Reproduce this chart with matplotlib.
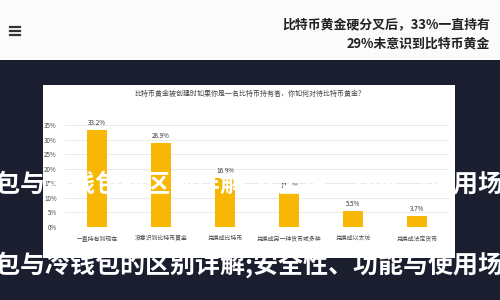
import matplotlib
matplotlib.use("Agg")
import matplotlib.pyplot as plt
from matplotlib.patches import Rectangle
from matplotlib.lines import Line2D

plt.rcParams['font.family'] = ['Noto Sans CJK SC', 'DejaVu Sans']

# data
categories = ['一直持有到现在', '没意识到比特币黄金', '兑换成比特币',
              '兑换成另一种货币或多种', '兑换成以太坊', '兑换成法定货币']
shares = [33.2, 28.9, 16.9, 11.6, 5.5, 3.7]
y_ticks = [0, 5, 10, 15, 20, 25, 30, 35]

header_lines = ['比特币黄金硬分叉后，33%一直持有', '29%未意识到比特币黄金']
chart_title = '比特币黄金被创建时如果你是一名比特币持有者，你如何对待比特币黄金？'
overlay_text = '钱包与冷钱包的区别详解;安全性、功能与使用场景'

W, H = 500, 300
dark = '#1b1e2f'
bar_color = '#f8b704'

fig = plt.figure(figsize=(W / 100, H / 100), dpi=100)
fig.patch.set_facecolor(dark)


def fx(px):
    return px / W


def fy(py):
    return 1 - py / H


# white header strip
fig.add_artist(Rectangle((0, fy(60)), 1, fy(0) - fy(60), transform=fig.transFigure,
                         facecolor='#fbfbfb', edgecolor='none', zorder=0))
# hamburger icon
for yy in (27, 31, 35):
    fig.add_artist(Line2D([fx(10), fx(20)], [fy(yy), fy(yy)], transform=fig.transFigure,
                          color='#333333', lw=1.6, zorder=1))
fig.text(fx(490), fy(24), header_lines[0], ha='right', va='center',
         fontsize=9.3, fontweight='bold', color='#222222')
fig.text(fx(490), fy(44), header_lines[1], ha='right', va='center',
         fontsize=9.3, fontweight='bold', color='#222222')

# white chart panel
fig.add_artist(Rectangle((fx(43), fy(258)), fx(455) - fx(43), fy(85) - fy(258),
                         transform=fig.transFigure, facecolor='white',
                         edgecolor='none', zorder=0))
fig.text(fx(250), fy(94), chart_title, ha='center', va='center',
         fontsize=5, color='#444444')

ax = fig.add_axes([fx(65), fy(227), fx(449) - fx(65), fy(125) - fy(227)])
ax.set_facecolor('none')
x = range(len(categories))
bars = ax.bar(x, shares, width=0.31, color=bar_color, zorder=2)
for xi, v in zip(x, shares):
    ax.text(xi, v + 1.0, f'{v}%', ha='center', va='bottom', fontsize=4.5,
            color='#333333')
ax.set_xlim(-0.5, len(categories) - 0.5)
ax.set_ylim(0, 35)
ax.set_yticks(y_ticks)
ax.set_yticklabels([f'{t}%' for t in y_ticks], fontsize=4.5, color='#444444')
ax.set_xticks(list(x))
ax.set_xticklabels(categories, fontsize=4.2, color='#444444')
ax.tick_params(length=0, pad=6)
ax.grid(axis='y', color='#e6e6e6', lw=0.6, zorder=0)
for s in ax.spines.values():
    s.set_visible(False)

# big white overlay title, drawn twice
for yy in (184, 265):
    fig.text(fx(-30), fy(yy), overlay_text, ha='left', va='center', fontsize=18,
             fontweight='heavy', color='white', zorder=10)

fig.savefig('out.png', dpi=100, facecolor=fig.get_facecolor())
